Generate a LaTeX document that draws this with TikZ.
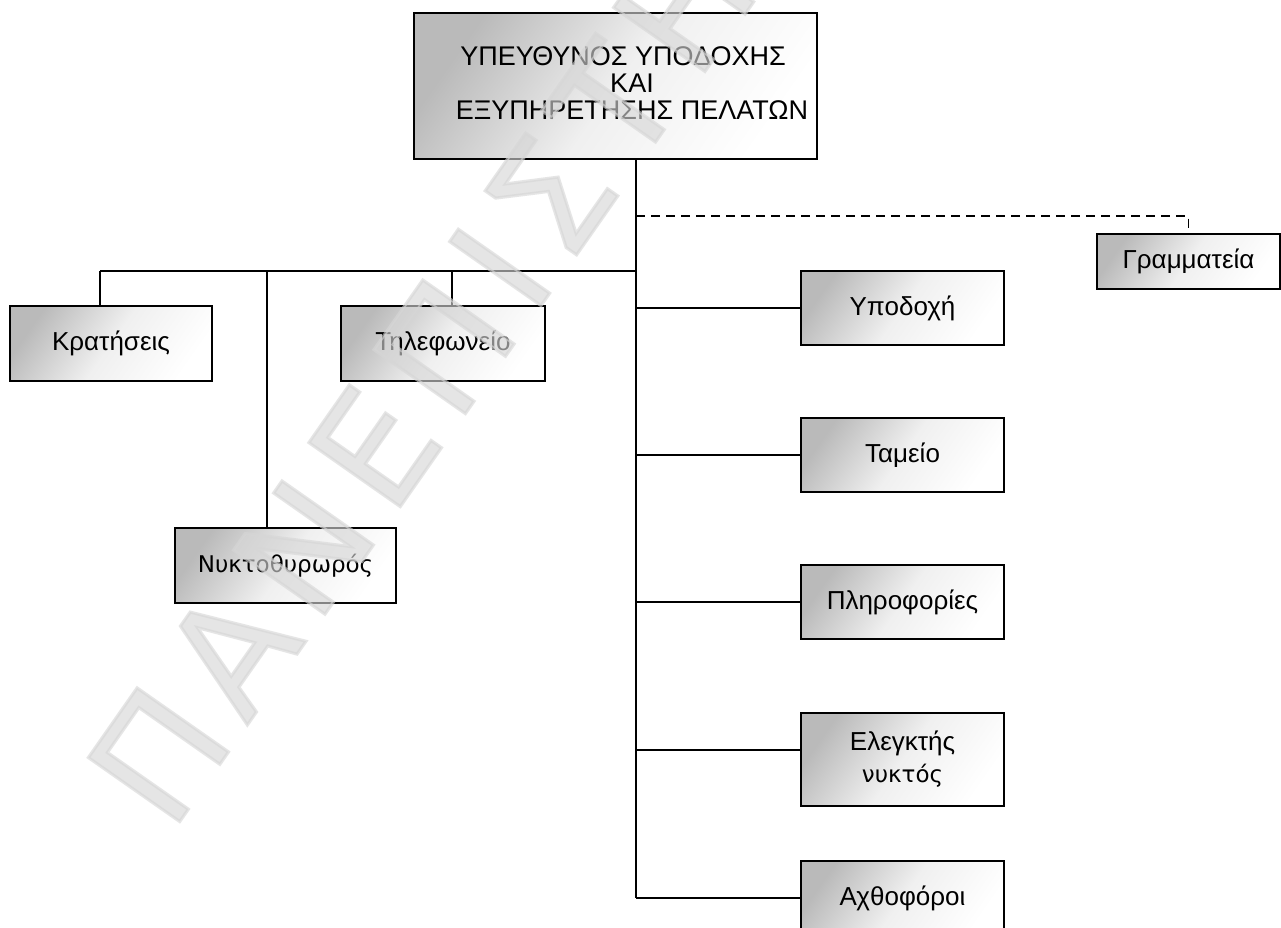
\documentclass[tikz,border=0pt]{standalone}
\usepackage{fontspec}
\setmainfont{Liberation Sans}
\newfontfamily\dvfont{DejaVu Sans}
\newfontfamily\wmfont[FakeBold=2,LetterSpace=11]{DejaVu Sans}
\begin{document}
\begin{tikzpicture}[x=1pt,y=-1pt,
  box/.style={draw=black, line width=1.6pt, inner sep=0pt,
    top color=black!27, bottom color=white, middle color=black!6,
    shading angle=55,
    font=\fontsize{26}{30}\selectfont, align=center},
  link/.style={line width=1.3pt},
  dashlink/.style={line width=1.3pt, dash pattern=on 9pt off 6pt},
  wm/.style={font=\wmfont\fontsize{153}{153}\selectfont, text=black!16,
    text opacity=0.62, inner sep=0pt}]
\useasboundingbox (0,0) rectangle (1281,927);
\clip (0,0) rectangle (1281,927);
\fill[white] (0,0) rectangle (1281,927);

% head of the department
\node[box, minimum width=403, minimum height=146] (top) at (615.5,86) {};
\node[font=\fontsize{27}{26.7}\selectfont, align=center, inner sep=0pt] (toptext) at (632,83)
  {ΥΠΕΥΘΥΝΟΣ ΥΠΟΔΟΧΗΣ\hspace*{18pt}\\ΚΑΙ\\ΕΞΥΠΗΡΕΤΗΣΗΣ ΠΕΛΑΤΩΝ};

% staff units
\node[box, minimum width=183, minimum height=55] (gram) at (1188.5,261.5) {Γραμματεία};
\node[box, minimum width=202, minimum height=75] (krat) at (111,343.5) {Κρατήσεις};
\node[box, minimum width=204, minimum height=75] (tile) at (443,343.5) {Τηλεφωνείο};
\node[box, minimum width=221, minimum height=75, font=\dvfont\fontsize{23}{28}\selectfont] (nykt) at (285.5,565.5) {Νυκτοθυρωρός};
\node[box, minimum width=203, minimum height=74] (ypod) at (902.5,308) {Υποδοχή};
\node[box, minimum width=203, minimum height=74] (tam) at (902.5,455) {Ταμείο};
\node[box, minimum width=203, minimum height=74] (plir) at (902.5,602) {Πληροφορίες};
\node[box, minimum width=203, minimum height=93, font=\fontsize{26}{32}\selectfont] (eleg) at (902.5,759.5) {Ελεγκτής\\{\dvfont\fontsize{23}{32}\selectfont νυκτός}};
\node[box, minimum width=203, minimum height=74] (axth) at (902.5,898) {Αχθοφόροι};

% junction points on the trunk and the left bar
\coordinate (tdash) at (636,216);
\coordinate (tbar) at (636,271);
\coordinate (tend) at (636,898);
\coordinate (jkrat) at (100,271);
\coordinate (jnykt) at (267,271);
\coordinate (jtile) at (452,271);
\coordinate (jeleg) at (636,750);

% connectors
\draw[link] (top.south -| tbar) -- (tend);
\draw[link] (jkrat) -- (tbar);
\draw[link] (jkrat) -- (jkrat |- krat.north);
\draw[link] (jnykt) -- (jnykt |- nykt.north);
\draw[link] (jtile) -- (jtile |- tile.north);
\draw[link] (ypod.west -| tbar) -- (ypod.west);
\draw[link] (tam.west -| tbar) -- (tam.west);
\draw[link] (plir.west -| tbar) -- (plir.west);
\draw[link] (jeleg) -- (jeleg -| eleg.west);
\draw[link] (tend) -- (axth.west);
\draw[dashlink] (tdash) -- (tdash -| gram.north) -- (gram.north);

% watermark lettering across the chart
\node[wm, rotate=55, anchor=base west] (mark) at (171,834) {ΠΑΝΕΠΙΣΤΗΜΙΟ};
\end{tikzpicture}
\end{document}
